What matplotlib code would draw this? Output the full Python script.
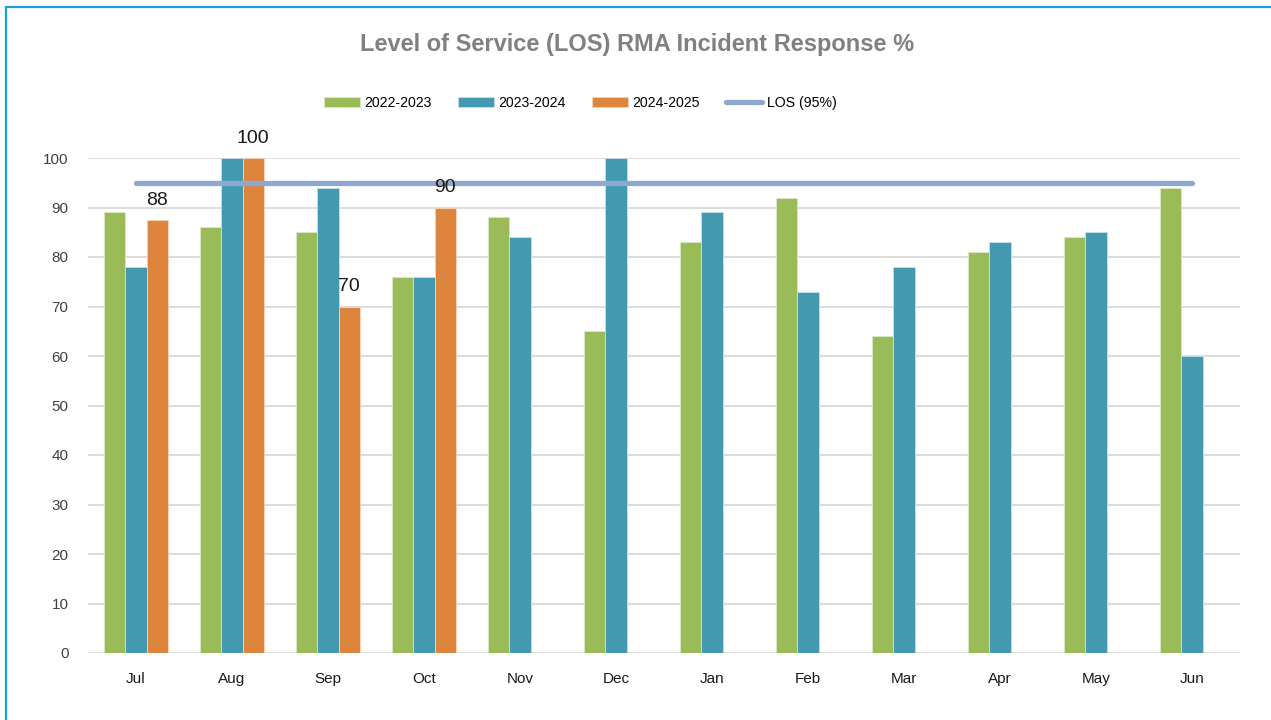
import matplotlib.pyplot as plt
import numpy as np
from matplotlib.patches import Rectangle

plt.rcParams['font.family'] = ['Liberation Sans', 'DejaVu Sans']

months = ["Jul", "Aug", "Sep", "Oct", "Nov", "Dec", "Jan", "Feb", "Mar", "Apr", "May", "Jun"]
fy_2022 = [89, 86, 85, 76, 88, 65, 83, 92, 64, 81, 84, 94]
fy_2023 = [78, 100, 94, 76, 84, 100, 89, 73, 78, 83, 85, 60]
fy_2024 = [87.5, 100, 70, 90, np.nan, np.nan, np.nan, np.nan, np.nan, np.nan, np.nan, np.nan]
los_target = [95] * len(months)
series_names = ["2022-2023", "2023-2024", "2024-2025", "LOS (95%)"]

c_green = "#9BBB59"
c_teal = "#4399B0"
c_orange = "#DD843D"
c_los = "#8FA8D0"

fig = plt.figure(figsize=(12.71, 7.2), dpi=100)
ax = fig.add_axes([88 / 1271, 1 - 653 / 720, (1240 - 88) / 1271, (653 - 158) / 720])

x = np.arange(len(months))
w = 0.22
b1 = ax.bar(x - w, fy_2022, w, color=c_green, edgecolor="#DCE8C8", linewidth=0.6, label=series_names[0], zorder=2)
b2 = ax.bar(x, fy_2023, w, color=c_teal, edgecolor="#C5E2EA", linewidth=0.6, label=series_names[1], zorder=2)
b3 = ax.bar(x + w, fy_2024, w, color=c_orange, edgecolor="#F5D5BC", linewidth=0.6, label=series_names[2], zorder=2)
ln, = ax.plot(x, los_target, color=c_los, lw=3.8, solid_capstyle="round", label=series_names[3], zorder=3)

# data labels on the 2024-2025 bars
for xi, v in zip(x, fy_2024):
    if np.isnan(v):
        continue
    ax.annotate(f"{v:.0f}", (xi + w, v), xytext=(0, 11), textcoords="offset points",
                ha="center", va="baseline", fontsize=14, color="#1a1a1a", zorder=4)

ax.set_xlim(-0.5, len(months) - 0.5)
ax.set_ylim(0, 100)
ax.set_yticks(range(0, 101, 10))
ax.set_xticks(x)
ax.set_xticklabels(months)
ax.tick_params(axis="both", length=0, labelsize=11)
ax.tick_params(axis="y", pad=14, colors="#404040")
ax.tick_params(axis="x", pad=14, colors="#1a1a1a")
ax.grid(axis="y", color="#D9D9D9", lw=1.3, zorder=0)
for s in ax.spines.values():
    s.set_visible(False)

fig.text(637 / 1271, 1 - 44 / 720, "Level of Service (LOS) RMA Incident Response %",
         ha="center", va="center", fontsize=17, fontweight="bold", color="#808080")

fig.legend(handles=[b1, b2, b3, ln], labels=series_names, loc="center",
           bbox_to_anchor=(580 / 1271, 1 - 103 / 720), ncol=4, frameon=False,
           fontsize=10.2, handlelength=2.6, handleheight=0.75, columnspacing=1.8, handletextpad=0.3)

# outer frame
fig.patches.append(Rectangle((6 / 1271, -0.1), 1.2, 1.1 - 7 / 720, transform=fig.transFigure,
                             fill=False, edgecolor="#1BA1E2", lw=1.6, zorder=10))

fig.savefig("out.png", dpi=100)
